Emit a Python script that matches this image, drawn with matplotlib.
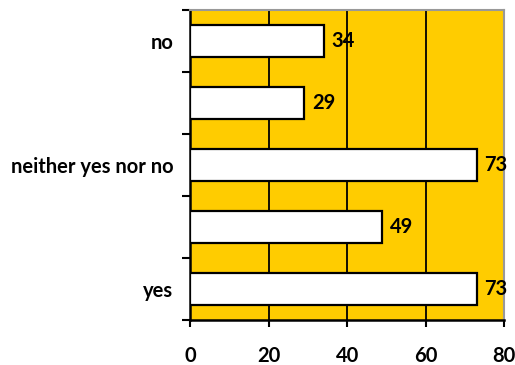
import numpy as np
import matplotlib
matplotlib.use("Agg")
import matplotlib.pyplot as plt

# ---- DATA ----
categories = ["yes", "", "neither yes nor no", "", "no"]
values = [73, 49, 73, 29, 34]
x_ticks = [0, 20, 40, 60, 80]

GOLD = "#FFCC00"
FS = 14.5

plt.rcParams["font.family"] = ["Lato", "DejaVu Sans"]
plt.rcParams["font.weight"] = "bold"

fig = plt.figure(figsize=(5.15, 3.65), dpi=100)
ax = fig.add_axes([0.369, 0.1233, 0.61, 0.8493])
ax.set_facecolor(GOLD)

pos = np.arange(len(values))
ax.barh(pos, values, height=0.52, color="white", edgecolor="black",
        linewidth=1.6, zorder=3)

# value labels next to each bar
for y, v in zip(pos, values):
    ax.text(v + 2, y, str(v), va="center", ha="left", fontsize=FS,
            fontweight="bold", zorder=4)

ax.set_xlim(0, 80)
ax.set_ylim(-0.5, len(values) - 0.5)

# vertical gridlines
for xv in x_ticks[1:-1]:
    ax.axvline(xv, color="black", linewidth=1.3, zorder=1)

ax.set_xticks(x_ticks)
ax.set_xticklabels([str(t) for t in x_ticks], fontsize=FS, fontweight="bold")
ax.tick_params(axis="x", direction="out", length=5, width=1.5, pad=14)

# tick marks between categories, labels at category centres
ax.set_yticks(np.arange(-0.5, len(values), 1.0))
ax.set_yticklabels([])
ax.tick_params(axis="y", which="major", direction="out", length=6, width=1.5)
ax.set_yticks(pos, minor=True)
ax.set_yticklabels(categories, minor=True, fontsize=FS, fontweight="bold")
ax.tick_params(axis="y", which="minor", length=0, pad=12)

ax.spines["left"].set_linewidth(1.8)
ax.spines["bottom"].set_linewidth(1.8)
ax.spines["top"].set_color("#999999")
ax.spines["right"].set_color("#999999")
ax.spines["top"].set_linewidth(1.5)
ax.spines["right"].set_linewidth(1.5)

fig.savefig("out.png", dpi=100)
